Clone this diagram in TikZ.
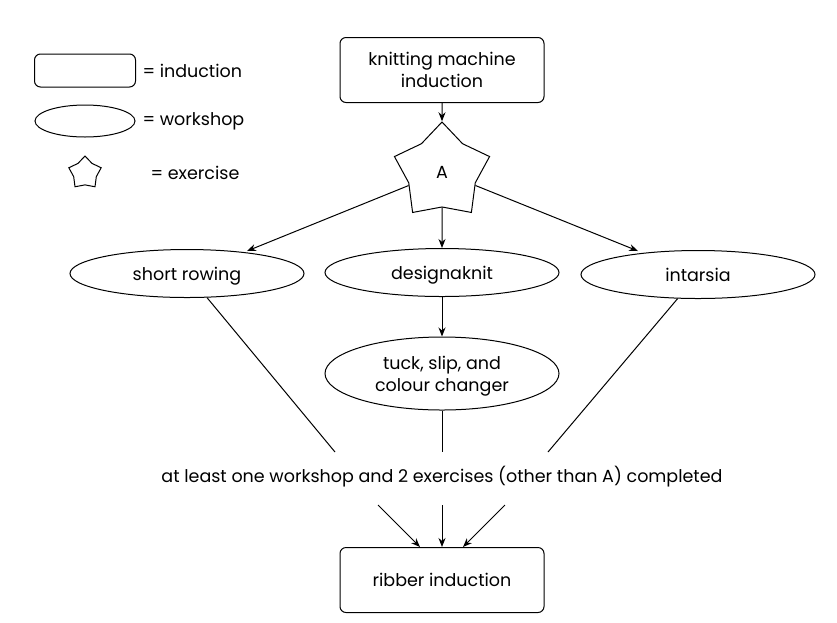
\documentclass[tikz,border=0pt]{standalone}
\usepackage{fontspec}
\setmainfont{Poppins}
\usetikzlibrary{shapes.geometric,arrows.meta,calc}
\begin{document}
\begin{tikzpicture}[x=1pt,y=-1pt,
  every node/.style={font=\fontsize{17.5}{22}\selectfont},
  ind/.style={draw,rounded corners=6pt,minimum width=204pt,minimum height=65pt,align=center,text depth=0pt},
  ws/.style={draw,ellipse,minimum width=234pt,minimum height=48pt,align=center,inner sep=0pt,text depth=0pt},
  ex/.style={draw,star,star points=5,star point ratio=1.43,minimum size=100pt,inner sep=0pt},
  arr/.style={-{Stealth[length=9pt,width=7pt]},line width=1pt},
  ln/.style={line width=1pt},
  line width=1pt]
\useasboundingbox (0,0) rectangle (837,622);
% legend
\node[draw,rounded corners=6pt,minimum width=101pt,minimum height=33pt] (lind) at (85,70.5) {};
\node[anchor=west,inner sep=0pt] (lindt) at (142,71) {= induction};
\node[draw,ellipse,minimum width=100pt,minimum height=32pt,inner sep=0pt] (lws) at (85,121) {};
\node[anchor=west,inner sep=0pt] (lwst) at (142,121) {= workshop};
\node[draw,star,star points=5,star point ratio=1.43,minimum size=34pt,inner sep=0pt] (lex) at (85,173) {};
\node[anchor=west,inner sep=0pt] (lext) at (150,173) {= exercise};
% main
\node[ind] (kmi) at (442,70) {knitting machine\\induction};
\node[ex] (A) at (442,172) {A};
\node[ws] (sr) at (187,273.5) {short rowing};
\node[ws] (dk) at (442,272.5) {designaknit};
\node[ws] (in) at (698,274.5) {intarsia};
\node[ws,minimum height=73pt] (tk) at (442,373.5) {tuck, slip, and\\colour changer};
\node (cond) at (442,477) {at least one workshop and 2 exercises (other than A) completed};
\node[ind] (rib) at (442,580) {ribber induction};
% connectors
\coordinate (srin) at (247,251);
\coordinate (inin) at (638,251);
\draw[arr] (kmi) -- (A);
\draw[arr] (A) -- (srin);
\draw[arr] (A) -- (inin);
\draw[arr] (A) -- (dk);
\draw[arr] (dk) -- (tk);
\coordinate (c1) at (335,452);
\coordinate (c2) at (442,452);
\coordinate (c3) at (548,452);
\draw[ln] (sr) -- (c1);
\draw[ln] (tk) -- (c2);
\draw[ln] (in) -- (c3);
\coordinate (b1) at (378,505);
\coordinate (b2) at (442,505);
\coordinate (b3) at (505,505);
\draw[arr] (b1) -- ($(rib.north)+(-22,0)$);
\draw[arr] (b2) -- (rib);
\draw[arr] (b3) -- ($(rib.north)+(21,0)$);
\end{tikzpicture}
\end{document}
